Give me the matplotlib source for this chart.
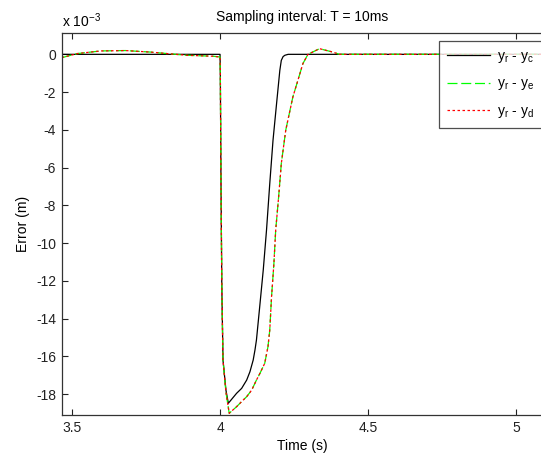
import matplotlib
matplotlib.use("Agg")
import matplotlib.pyplot as plt

plt.rcParams['font.family'] = ['Liberation Sans', 'DejaVu Sans']
plt.rcParams['mathtext.default'] = 'regular'
plt.rcParams['axes.unicode_minus'] = False

# Data (error values in units of 1e-3 m)
t_c = [3.465, 3.99, 4.000, 4.001, 4.003, 4.006, 4.010, 4.020, 4.028, 4.056, 4.073,
       4.090, 4.101, 4.112, 4.118, 4.123, 4.134, 4.146, 4.157, 4.168, 4.179,
       4.191, 4.202, 4.207, 4.213, 4.219, 4.230, 5.09]
y_c = [0.0, 0.0, 0.0, -1.0, -6.3, -12.3, -16.2, -17.8, -18.49, -17.96, -17.70,
       -17.26, -16.82, -16.2, -15.67, -15.14, -13.38, -11.43, -9.32, -6.85, -4.55,
       -2.61, -0.85, -0.32, -0.12, -0.05, 0.0, 0.0]

t_e = [3.465, 3.474, 3.518, 3.597, 3.68, 3.765, 3.821, 3.888, 3.976, 4.000,
       4.001, 4.003, 4.006, 4.010, 4.020, 4.031, 4.056, 4.073, 4.090, 4.107,
       4.123, 4.135, 4.151, 4.162, 4.168, 4.174, 4.182, 4.188, 4.198, 4.207,
       4.222, 4.246, 4.263, 4.280, 4.297, 4.336, 4.381, 4.403, 5.09]
y_e = [-0.17, -0.14, 0.04, 0.18, 0.2, 0.12, 0.04, -0.05, -0.1, -0.14,
       -1.0, -6.3, -12.3, -16.2, -17.9, -19.02, -18.67, -18.40, -18.14, -17.79,
       -17.26, -16.90, -16.37, -15.49, -14.61, -12.85, -11.08, -9.32, -7.55, -5.79,
       -4.02, -2.26, -1.38, -0.49, 0.0, 0.30, 0.12, 0.0, 0.0]

t_d = list(t_e)
y_d = list(y_e)

labels = ['$y_r$ - $y_c$', '$y_r$ - $y_e$', '$y_r$ - $y_d$']
x_ticks = [3.5, 4.0, 4.5, 5.0]
x_ticklabels = ['3.5', '4', '4.5', '5']
y_ticks = list(range(-18, 1, 2))

FS = 10

fig = plt.figure(figsize=(5.41, 4.59), dpi=100)
ax = fig.add_axes([0.114, 0.0959, 0.888, 0.833])

ax.plot(t_c, y_c, color='black', lw=0.9, label=labels[0])
ax.plot(t_e, y_e, color='#00ff00', lw=0.9, dashes=(8, 3), label=labels[1])
ax.plot(t_d, y_d, color='#ff0000', lw=0.9, dashes=(2, 2), label=labels[2])

ax.set_xlim(3.465, 5.088)
ax.set_ylim(-19.11, 1.15)
ax.set_xticks(x_ticks)
ax.set_xticklabels(x_ticklabels)
ax.set_yticks(y_ticks)
ax.set_yticklabels([str(v) for v in y_ticks])
ax.tick_params(direction='in', top=True, right=False, length=4, width=0.8,
               labelsize=FS, colors='#222222', pad=4)
for s in ax.spines.values():
    s.set_color('#333333')
    s.set_linewidth(0.9)

ax.set_xlabel('Time (s)', fontsize=FS, labelpad=3)
ax.set_ylabel('Error (m)', fontsize=FS, labelpad=4)
ax.set_title('Sampling interval: T = 10ms', fontsize=FS, pad=8.5)
ax.text(0.0, 1.008, 'x 10$^{-3}$', transform=ax.transAxes, fontsize=FS,
        ha='left', va='bottom')

leg = ax.legend(loc='upper right', bbox_to_anchor=(1.0, 0.978), fontsize=FS,
                frameon=True, fancybox=False, edgecolor='#222222',
                handlelength=3.1, handletextpad=0.55, labelspacing=0.85,
                borderpad=0.55, borderaxespad=0.0)
leg.get_frame().set_linewidth(0.9)

fig.savefig('out.png', dpi=100)
